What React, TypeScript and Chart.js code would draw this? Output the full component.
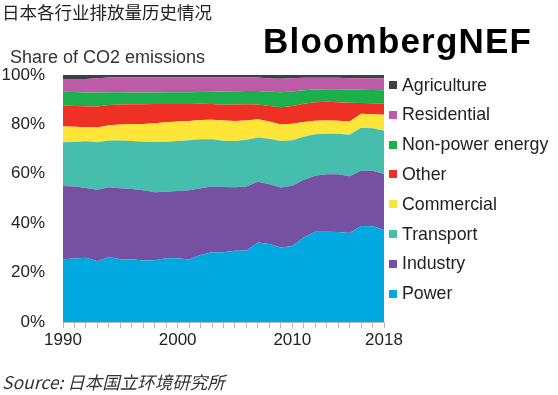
import React, { useEffect, useRef } from "react";
import { Chart, registerables } from "chart.js";

Chart.register(...registerables);

const years = [
  1990, 1991, 1992, 1993, 1994, 1995, 1996, 1997, 1998, 1999,
  2000, 2001, 2002, 2003, 2004, 2005, 2006, 2007, 2008, 2009,
  2010, 2011, 2012, 2013, 2014, 2015, 2016, 2017, 2018,
];
const shownYears = [1990, 2000, 2010, 2018];

const power = [25.4, 25.7, 26.0, 24.6, 26.3, 25.4, 25.4, 24.9, 25.0, 25.8, 25.8, 25.3, 27.1, 28.2, 28.2, 28.8, 28.9, 32.2, 31.6, 30.2, 30.8, 34.2, 36.5, 36.5, 36.4, 36.0, 38.9, 38.8, 37.2];
const industry = [29.7, 29.2, 28.3, 28.9, 28.3, 28.7, 28.4, 28.4, 27.5, 26.9, 27.2, 28.0, 27.0, 26.7, 26.5, 25.8, 26.0, 24.6, 24.2, 24.3, 24.4, 23.4, 22.7, 23.3, 23.4, 23.0, 22.3, 22.4, 22.7];
const transport = [17.7, 18.0, 18.9, 19.3, 18.9, 19.4, 19.5, 19.7, 20.4, 20.3, 20.3, 20.3, 19.9, 19.1, 18.7, 18.7, 18.9, 17.9, 18.4, 18.8, 18.4, 17.4, 16.8, 16.4, 16.4, 16.8, 17.4, 17.2, 17.6];
const commercial = [6.4, 6.1, 5.6, 5.9, 6.2, 6.5, 6.8, 7.2, 7.6, 7.9, 7.9, 7.8, 7.8, 7.9, 8.2, 8.1, 7.8, 7.4, 7.0, 6.7, 6.7, 6.0, 5.5, 5.4, 5.3, 5.4, 5.7, 5.7, 6.4];
const other = [8.5, 8.5, 8.5, 8.5, 8.2, 8.1, 8.1, 8.0, 7.8, 7.4, 7.1, 6.9, 6.6, 6.4, 6.4, 6.7, 6.6, 6.0, 6.3, 6.9, 7.1, 7.4, 7.5, 7.6, 7.5, 7.6, 4.4, 4.5, 4.5];
const nonPowerEnergy = [5.5, 5.6, 5.6, 5.7, 5.1, 4.9, 4.7, 4.7, 4.6, 4.7, 4.7, 4.7, 4.7, 4.9, 5.3, 5.3, 5.3, 5.4, 5.7, 6.1, 5.9, 5.4, 5.1, 5.0, 5.2, 5.3, 5.3, 5.3, 5.4];
const residential = [5.2, 5.3, 5.5, 5.8, 6.0, 6.0, 6.1, 6.1, 6.1, 6.0, 6.0, 6.0, 5.9, 5.8, 5.7, 5.6, 5.5, 5.5, 5.4, 5.5, 5.4, 5.1, 4.8, 4.7, 4.7, 4.6, 4.6, 4.7, 4.9];
const agriculture = [1.6, 1.6, 1.6, 1.3, 1.0, 1.0, 1.0, 1.0, 1.0, 1.0, 1.0, 1.0, 1.0, 1.0, 1.0, 1.0, 1.0, 1.0, 1.4, 1.5, 1.3, 1.1, 1.1, 1.1, 1.1, 1.3, 1.4, 1.4, 1.3];

const yTicks = [0, 20, 40, 60, 80, 100];

const seriesNames = ["Power", "Industry", "Transport", "Commercial", "Other", "Non-power energy", "Residential", "Agriculture"];
const seriesData = [power, industry, transport, commercial, other, nonPowerEnergy, residential, agriculture];
const seriesColors = ["#00A9E0", "#7651A2", "#45BEAD", "#FFE537", "#EE3124", "#1BB04C", "#BD5BA9", "#404044"];

const FONT = "'Liberation Sans', Arial, sans-serif";

export default function App() {
  const canvasRef = useRef<HTMLCanvasElement | null>(null);

  useEffect(() => {
    document.body.style.margin = "0";
    const canvas = canvasRef.current;
    if (!canvas) return;
    const chart = new Chart(canvas, {
      type: "line",
      data: {
        labels: years.map(String),
        datasets: seriesNames.map((name, i) => ({
          label: name,
          data: seriesData[i],
          backgroundColor: seriesColors[i],
          borderColor: seriesColors[i],
          borderWidth: 0,
          pointRadius: 0,
          tension: 0,
          fill: i === 0 ? "origin" : "-1",
        })),
      },
      options: {
        responsive: false,
        animation: false,
        layout: { padding: { top: 75, right: 174, left: 0, bottom: 0 } },
        plugins: { legend: { display: false }, tooltip: { enabled: false } },
        scales: {
          x: {
            type: "category",
            offset: false,
            afterFit: (s: any) => { s.height = 73; },
            border: { display: true, color: "#b8b8b8", width: 1 },
            grid: { display: true, drawOnChartArea: false, drawTicks: true, tickLength: 6, color: "#b8b8b8" },
            ticks: {
              autoSkip: false,
              maxRotation: 0,
              padding: 2,
              color: "#222",
              font: { family: FONT, size: 17 },
              callback: (_v: any, idx: number) => (shownYears.includes(years[idx]) ? String(years[idx]) : ""),
            },
          },
          y: {
            stacked: true,
            min: 0,
            max: 100,
            afterFit: (s: any) => { s.width = 63; },
            afterBuildTicks: (s: any) => { s.ticks = yTicks.map((v) => ({ value: v })); },
            border: { display: false },
            grid: { display: false, drawTicks: false },
            ticks: {
              padding: 18,
              color: "#222",
              font: { family: FONT, size: 17 },
              callback: (v: any) => `${v}%`,
            },
          },
        },
      },
    });
    return () => chart.destroy();
  }, []);

  const legendItems = [...seriesNames].map((n, i) => ({ name: n, color: seriesColors[i] })).reverse();

  return (
    <div style={{ position: "relative", width: 558, height: 395, background: "#fff", overflow: "hidden" }}>
      <canvas ref={canvasRef} width={558} height={395} style={{ position: "absolute", left: 0, top: 0 }} />
      <div style={{ position: "absolute", left: 2, top: 1, fontFamily: "'Noto Sans CJK SC', sans-serif", fontSize: 17.5, color: "#222", lineHeight: "22px", whiteSpace: "nowrap" }}>
        日本各行业排放量历史情况
      </div>
      <div style={{ position: "absolute", left: 263, top: 21, fontFamily: FONT, fontWeight: "bold", fontSize: 35, letterSpacing: 1.2, color: "#000", lineHeight: "40px", whiteSpace: "nowrap" }}>
        BloombergNEF
      </div>
      <div style={{ position: "absolute", left: 10, top: 46, fontFamily: FONT, fontSize: 18, color: "#333", lineHeight: "22px", whiteSpace: "nowrap" }}>
        Share of CO2 emissions
      </div>
      {legendItems.map((it, i) => (
        <div key={it.name} style={{ position: "absolute", left: 389, top: 85 + i * 29.8 - 11, height: 22, display: "flex", alignItems: "center", whiteSpace: "nowrap" }}>
          <span style={{ display: "inline-block", width: 8, height: 8, background: it.color, marginRight: 5 }} />
          <span style={{ fontFamily: FONT, fontSize: 17.8, color: "#222" }}>{it.name}</span>
        </div>
      ))}
      <div style={{ position: "absolute", left: 2, top: 370, fontFamily: "'Noto Sans CJK SC', 'Open Sans', sans-serif", fontStyle: "italic", fontSize: 17.5, color: "#333", lineHeight: "24px", whiteSpace: "nowrap" }}>
        Source: 日本国立环境研究所
      </div>
    </div>
  );
}
